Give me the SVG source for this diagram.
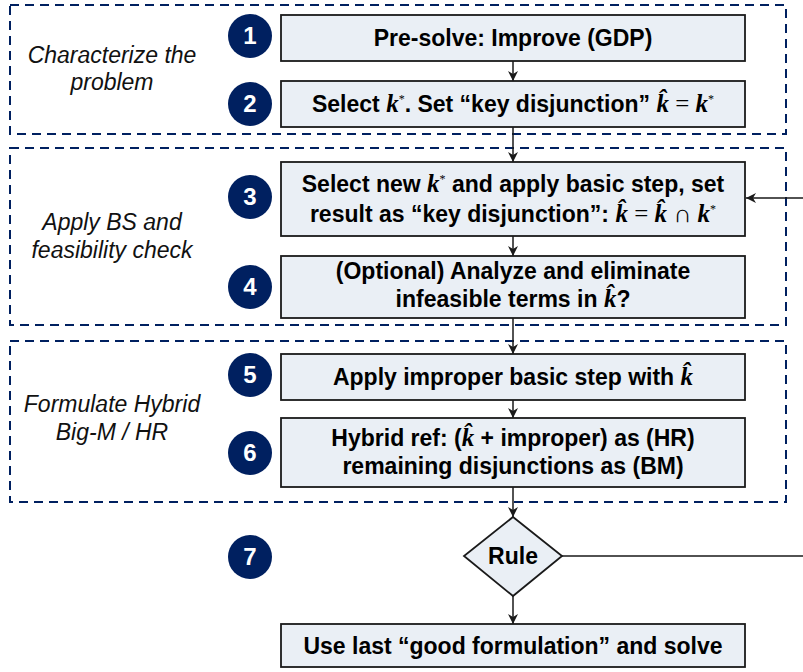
<svg xmlns="http://www.w3.org/2000/svg" width="803" height="672" viewBox="0 0 803 672">
<defs>
<style>
.grp{fill:none;stroke:#002060;stroke-width:2;stroke-dasharray:9 6}
.box{fill:#EAEFF5;stroke:#1a1a1a;stroke-width:1.8}
.t{font-family:"Liberation Sans",Arial,sans-serif;font-weight:bold;font-size:23px;fill:#000;text-anchor:middle}
.m{font-family:"Liberation Serif","Times New Roman",serif;font-style:italic;font-weight:bold;font-size:25px}
.r{font-family:"Liberation Serif","Times New Roman",serif;font-style:normal;font-weight:normal;font-size:25px}
.s{font-family:"Liberation Serif","Times New Roman",serif;font-style:normal;font-weight:normal;font-size:12px}
.lab{font-family:"Liberation Sans",Arial,sans-serif;font-style:italic;font-size:23px;fill:#111;text-anchor:middle}
.num circle{fill:#002060}
.num text{font-family:"Liberation Sans",Arial,sans-serif;font-weight:bold;font-size:24px;fill:#fff;text-anchor:middle}
.conn{fill:none;stroke:#1a1a1a;stroke-width:1.5}
</style>
<marker id="arr" viewBox="0 0 10 10" refX="10" refY="5" markerWidth="10" markerHeight="10" markerUnits="userSpaceOnUse" orient="auto">
<path d="M0,0 L10,5 L0,10 L3,5 z" fill="#1a1a1a"/>
</marker>
</defs>

<g id="groups">
<rect class="grp" x="10" y="5" width="776" height="129"/>
<rect class="grp" x="10" y="148" width="776" height="177"/>
<rect class="grp" x="10" y="341" width="776" height="161"/>
<text class="lab" x="112" y="63">Characterize the</text>
<text class="lab" x="112" y="90">problem</text>
<text class="lab" x="112" y="230">Apply BS and</text>
<text class="lab" x="112" y="258">feasibility check</text>
<text class="lab" x="112" y="412">Formulate Hybrid</text>
<text class="lab" x="112" y="440">Big-M / HR</text>
</g>

<g id="connectors">
<line class="conn" x1="513" y1="61" x2="513" y2="81" marker-end="url(#arr)"/>
<line class="conn" x1="513" y1="127" x2="513" y2="162" marker-end="url(#arr)"/>
<line class="conn" x1="513" y1="236" x2="513" y2="256" marker-end="url(#arr)"/>
<line class="conn" x1="513" y1="318" x2="513" y2="354" marker-end="url(#arr)"/>
<line class="conn" x1="513" y1="400" x2="513" y2="418" marker-end="url(#arr)"/>
<line class="conn" x1="513" y1="487" x2="513" y2="517" marker-end="url(#arr)"/>
<line class="conn" x1="513" y1="596" x2="513" y2="624" marker-end="url(#arr)"/>
<polyline class="conn" points="562,556 812,556 812,198 746,198" marker-end="url(#arr)"/>
</g>

<g id="n1" class="num"><circle cx="250" cy="36" r="22"/><text x="250" y="44">1</text></g>
<g id="n2" class="num"><circle cx="250" cy="104" r="22"/><text x="250" y="112">2</text></g>
<g id="n3" class="num"><circle cx="250" cy="197" r="22"/><text x="250" y="205">3</text></g>
<g id="n4" class="num"><circle cx="250" cy="287" r="22"/><text x="250" y="295">4</text></g>
<g id="n5" class="num"><circle cx="250" cy="375" r="22"/><text x="250" y="383">5</text></g>
<g id="n6" class="num"><circle cx="250" cy="453" r="22"/><text x="250" y="461">6</text></g>
<g id="n7" class="num"><circle cx="250" cy="557" r="22"/><text x="250" y="565">7</text></g>

<g id="step1">
<rect class="box" x="281" y="15" width="464" height="46"/>
<text class="t" x="513" y="46">Pre-solve: Improve (GDP)</text>
</g>

<g id="step2">
<rect class="box" x="281" y="81" width="464" height="46"/>
<text class="t" x="513" y="112">Select <tspan class="m">k</tspan><tspan class="s" dy="-9">*</tspan><tspan dy="9">. Set “key disjunction” </tspan><tspan class="m">k̂</tspan><tspan class="r"> = </tspan><tspan class="m">k</tspan><tspan class="s" dy="-9">*</tspan></text>
</g>

<g id="step3">
<rect class="box" x="281" y="162" width="464" height="74"/>
<text class="t" x="513" y="192">Select new <tspan class="m">k</tspan><tspan class="s" dy="-9">*</tspan><tspan dy="9"> and apply basic step, set</tspan></text>
<text class="t" x="513" y="222">result as “key disjunction”:  <tspan class="m">k̂</tspan><tspan class="r"> = </tspan><tspan class="m">k̂</tspan><tspan class="r"> ∩ </tspan><tspan class="m">k</tspan><tspan class="s" dy="-9">*</tspan></text>
</g>

<g id="step4">
<rect class="box" x="281" y="256" width="464" height="62"/>
<text class="t" x="513" y="279">(Optional) Analyze and eliminate</text>
<text class="t" x="513" y="307">infeasible terms in <tspan class="m">k̂</tspan>?</text>
</g>

<g id="step5">
<rect class="box" x="281" y="354" width="464" height="46"/>
<text class="t" x="513" y="385">Apply improper basic step with <tspan class="m">k̂</tspan></text>
</g>

<g id="step6">
<rect class="box" x="281" y="418" width="464" height="69"/>
<text class="t" x="513" y="446">Hybrid ref: (<tspan class="m">k̂</tspan> + improper) as (HR)</text>
<text class="t" x="513" y="474">remaining disjunctions as (BM)</text>
</g>

<g id="rule">
<polygon class="box" points="513,517 562,556 513,596 464,556"/>
<text class="t" x="513" y="564">Rule</text>
</g>

<g id="final">
<rect class="box" x="281" y="624" width="464" height="43"/>
<text class="t" x="513" y="654">Use last “good formulation” and solve</text>
</g>
</svg>
